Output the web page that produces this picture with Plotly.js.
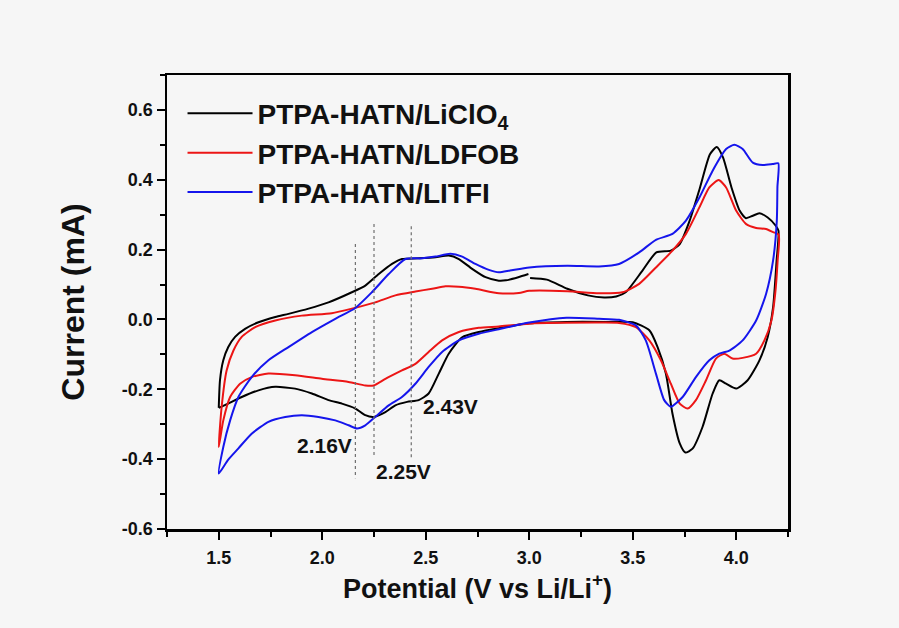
<!DOCTYPE html>
<html>
<head>
<meta charset="utf-8">
<script src="https://cdn.plot.ly/plotly-3.0.1.min.js"></script>
<style>
  html, body { margin: 0; padding: 0; background: #f6f6f6; }
  #chart { width: 899px; height: 628px; }
</style>
</head>
<body>
<div id="chart"></div>
<script>
// Cyclic voltammograms of PTPA-HATN in three electrolytes (potential in V vs Li/Li+, current in mA).
// Each loop starts at 1.5 V, sweeps anodically to ~4.2 V, then returns cathodically to 1.5 V.
// A null marks the short break in the LiClO4 record at 3.0 V.

const seriesNames = ['PTPA-HATN/LiClO<sub>4</sub>', 'PTPA-HATN/LDFOB', 'PTPA-HATN/LITFI'];

const liclo4V = [1.5, 1.506, 1.522, 1.546, 1.579, 1.627, 1.692, 1.773, 1.837, 1.934, 2.03, 2.143, 2.208, 2.273, 2.337, 2.385, 2.466, 2.547, 2.611, 2.66, 2.724, 2.789, 2.853, 2.887, 2.947, 2.996, null, 3.004, 3.085, 3.184, 3.283, 3.362, 3.42, 3.466, 3.547, 3.614, 3.684, 3.727, 3.775, 3.825, 3.873, 3.906, 3.936, 3.977, 4.017, 4.047, 4.08, 4.112, 4.152, 4.19, 4.204,
  4.195, 4.178, 4.152, 4.112, 4.055, 4.0, 3.951, 3.918, 3.886, 3.837, 3.789, 3.754, 3.727, 3.692, 3.66, 3.62, 3.58, 3.5, 3.38, 3.18, 3.0, 2.853, 2.756, 2.676, 2.611, 2.563, 2.514, 2.466, 2.41, 2.353, 2.305, 2.248, 2.208, 2.16, 2.095, 2.03, 1.95, 1.869, 1.773, 1.692, 1.611, 1.546, 1.5];
const liclo4I = [-0.253, -0.174, -0.117, -0.079, -0.050, -0.027, -0.008, 0.007, 0.016, 0.031, 0.049, 0.078, 0.097, 0.130, 0.159, 0.173, 0.175, 0.178, 0.183, 0.173, 0.145, 0.121, 0.111, 0.112, 0.121, 0.130, null, 0.119, 0.114, 0.088, 0.069, 0.063, 0.066, 0.078, 0.140, 0.192, 0.197, 0.216, 0.283, 0.378, 0.473, 0.494, 0.464, 0.378, 0.311, 0.290, 0.297, 0.304, 0.292, 0.269, 0.254,
  0.169, 0.035, -0.050, -0.117, -0.174, -0.198, -0.184, -0.174, -0.212, -0.308, -0.370, -0.381, -0.355, -0.270, -0.155, -0.079, -0.031, -0.008, -0.007, -0.007, -0.011, -0.025, -0.036, -0.051, -0.098, -0.155, -0.212, -0.231, -0.236, -0.246, -0.265, -0.279, -0.274, -0.255, -0.241, -0.231, -0.212, -0.198, -0.193, -0.203, -0.222, -0.241, -0.253];

const ldfobV = [1.5, 1.514, 1.538, 1.571, 1.611, 1.676, 1.773, 1.901, 2.046, 2.143, 2.256, 2.353, 2.45, 2.531, 2.595, 2.66, 2.74, 2.853, 2.95, 3.0, 3.184, 3.337, 3.45, 3.531, 3.612, 3.692, 3.757, 3.822, 3.87, 3.915, 3.951, 4.0, 4.048, 4.096, 4.144, 4.178, 4.205,
  4.2, 4.188, 4.17, 4.136, 4.096, 4.031, 3.982, 3.942, 3.902, 3.854, 3.805, 3.765, 3.727, 3.684, 3.636, 3.58, 3.515, 3.434, 3.337, 3.0, 2.853, 2.756, 2.66, 2.579, 2.514, 2.45, 2.385, 2.305, 2.248, 2.208, 2.127, 1.998, 1.869, 1.74, 1.659, 1.603, 1.555, 1.522, 1.5];
const ldfobI = [-0.365, -0.250, -0.146, -0.089, -0.050, -0.022, -0.003, 0.011, 0.018, 0.031, 0.049, 0.069, 0.080, 0.088, 0.095, 0.094, 0.088, 0.075, 0.076, 0.082, 0.081, 0.075, 0.078, 0.102, 0.149, 0.197, 0.245, 0.321, 0.378, 0.399, 0.378, 0.311, 0.273, 0.262, 0.259, 0.250, 0.243,
  0.169, 0.073, -0.003, -0.060, -0.098, -0.110, -0.112, -0.098, -0.112, -0.174, -0.231, -0.255, -0.241, -0.184, -0.117, -0.060, -0.022, -0.010, -0.009, -0.012, -0.020, -0.024, -0.036, -0.060, -0.093, -0.127, -0.146, -0.170, -0.189, -0.189, -0.179, -0.170, -0.160, -0.155, -0.165, -0.184, -0.222, -0.289, -0.365];

const litfiV = [1.5, 1.522, 1.555, 1.595, 1.659, 1.74, 1.837, 1.95, 2.063, 2.16, 2.24, 2.321, 2.402, 2.482, 2.547, 2.619, 2.676, 2.74, 2.805, 2.853, 2.907, 3.0, 3.184, 3.337, 3.434, 3.531, 3.612, 3.692, 3.757, 3.822, 3.886, 3.951, 3.991, 4.031, 4.08, 4.128, 4.176, 4.203,
  4.199, 4.196, 4.178, 4.144, 4.096, 4.031, 3.967, 3.918, 3.87, 3.805, 3.741, 3.684, 3.652, 3.612, 3.563, 3.515, 3.434, 3.337, 3.18, 3.0, 2.853, 2.756, 2.66, 2.579, 2.514, 2.45, 2.385, 2.321, 2.256, 2.208, 2.168, 2.127, 2.063, 1.982, 1.901, 1.821, 1.74, 1.659, 1.595, 1.545, 1.5];
const litfiI = [-0.441, -0.365, -0.289, -0.222, -0.165, -0.117, -0.079, -0.036, 0.002, 0.033, 0.078, 0.130, 0.173, 0.175, 0.180, 0.188, 0.180, 0.159, 0.142, 0.135, 0.140, 0.149, 0.154, 0.152, 0.159, 0.192, 0.228, 0.245, 0.283, 0.349, 0.426, 0.488, 0.500, 0.488, 0.449, 0.442, 0.445, 0.447,
  0.380, 0.283, 0.169, 0.073, -0.003, -0.060, -0.089, -0.098, -0.117, -0.165, -0.222, -0.250, -0.231, -0.155, -0.060, -0.017, -0.001, 0.002, 0.005, -0.009, -0.028, -0.041, -0.060, -0.093, -0.136, -0.184, -0.222, -0.246, -0.279, -0.303, -0.312, -0.303, -0.289, -0.279, -0.274, -0.279, -0.293, -0.327, -0.369, -0.402, -0.441];

// Reduction peak potentials marked with dotted guides
const peakV = [2.16, 2.25, 2.43];
const guideTop = [0.216, 0.273, 0.267];
const guideBottom = [-0.455, -0.393, -0.398];
const labelV = [2.01, 2.393, 2.621];
const labelI = [-0.362, -0.436, -0.248];

// Axis tick labels
const xTickVals = [1.5, 2.0, 2.5, 3.0, 3.5, 4.0];
const xTickText = ['1.5', '2.0', '2.5', '3.0', '3.5', '4.0'];
const yTickVals = [-0.6, -0.4, -0.2, 0.0, 0.2, 0.4, 0.6];
const yTickText = ['-0.6', '-0.4', '-0.2', '0.0', '0.2', '0.4', '0.6'];

const colors = ['#000000', '#ec1515', '#1515ec'];
const FONT = 'Liberation Sans, Arial, Helvetica, sans-serif';

const xs = [liclo4V, ldfobV, litfiV];
const ys = [liclo4I, ldfobI, litfiI];

const traces = xs.map((x, k) => ({
  type: 'scatter', mode: 'lines', x: x, y: ys[k], name: seriesNames[k],
  line: { color: colors[k], width: 2, shape: 'spline', smoothing: 0.6 },
  connectgaps: false, hoverinfo: 'x+y'
}));

peakV.forEach((v, k) => {
  traces.push({
    type: 'scatter', mode: 'lines', x: [v, v], y: [guideTop[k], guideBottom[k]],
    line: { color: '#6f6f6f', width: 1.2, dash: 'dot' },
    showlegend: false, hoverinfo: 'skip'
  });
});

const annotations = peakV.map((v, k) => ({
  x: labelV[k], y: labelI[k], xref: 'x', yref: 'y',
  text: v.toFixed(2) + 'V', showarrow: false,
  font: { family: FONT, size: 21, weight: 'bold', color: '#111' }
}));

const axisCommon = {
  showline: true, linecolor: '#000', linewidth: 2.5, mirror: true,
  ticks: 'outside', ticklen: 8, tickwidth: 2, tickcolor: '#000',
  showgrid: false, zeroline: false, tickmode: 'array',
  tickfont: { family: FONT, size: 18, weight: 'bold', color: '#111' }
};

const layout = {
  width: 899, height: 628,
  paper_bgcolor: '#f6f6f6', plot_bgcolor: '#f6f6f6',
  margin: { l: 167, r: 111, t: 75, b: 99 },
  showlegend: true,
  legend: {
    x: 0.025, y: 0.97, xanchor: 'left', yanchor: 'top',
    bgcolor: 'rgba(0,0,0,0)', itemwidth: 65, tracegroupgap: 0,
    font: { family: FONT, size: 28, weight: 'bold', color: '#111' }
  },
  xaxis: Object.assign({}, axisCommon, {
    range: [1.25, 4.25], tickvals: xTickVals, ticktext: xTickText,
    ticklabelstandoff: 3,
    minor: { tickmode: 'linear', tick0: 1.25, dtick: 0.25, ticks: 'outside', ticklen: 5, tickwidth: 2, tickcolor: '#000' },
    title: { text: 'Potential (V vs Li/Li<sup>+</sup>)', standoff: 12,
      font: { family: FONT, size: 27, weight: 'bold', color: '#111' } }
  }),
  yaxis: Object.assign({}, axisCommon, {
    range: [-0.6, 0.7], tickvals: yTickVals, ticktext: yTickText,
    minor: { tickmode: 'linear', tick0: -0.6, dtick: 0.1, ticks: 'outside', ticklen: 5, tickwidth: 2, tickcolor: '#000' },
    title: { text: 'Current (mA)', standoff: 28,
      font: { family: FONT, size: 32, weight: 'bold', color: '#111' } }
  }),
  annotations: annotations
};

Plotly.newPlot('chart', traces, layout, { displayModeBar: false, staticPlot: true });
</script>
</body>
</html>
